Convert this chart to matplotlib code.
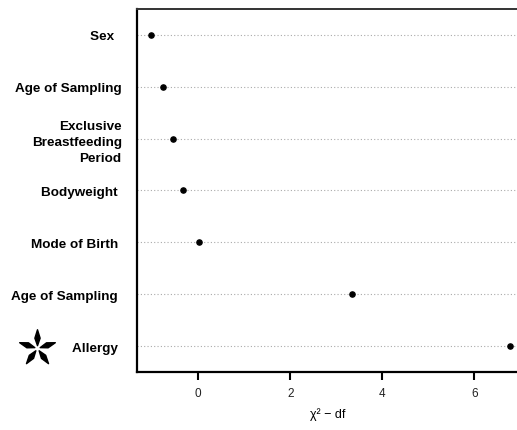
import matplotlib
matplotlib.use('Agg')
import matplotlib.pyplot as plt
import numpy as np
from matplotlib.path import Path

plt.rcParams['font.family'] = ['Liberation Sans', 'DejaVu Sans']

# data (top to bottom)
labels = ['Sex  ', 'Age of Sampling', 'Exclusive\nBreastfeeding\nPeriod',
          'Bodyweight ', 'Mode of Birth ', 'Age of Sampling ', 'Allergy ']
values = [-1.02, -0.76, -0.54, -0.33, 0.02, 3.33, 6.78]
xticks = [0, 2, 4, 6]

fig = plt.figure(figsize=(5.17, 4.31), dpi=100)
ax = fig.add_axes([0.265, 0.1346, 0.7372, 0.8423])

n = len(labels)
ypos = np.arange(n, 0, -1)

for y in ypos:
    ax.axhline(y, color='#aaaaaa', lw=0.8, ls=(0, (1, 2)), zorder=1)
ax.scatter(values, ypos, s=14, color='black', zorder=3)

ax.set_xlim(-1.33, 6.95)
ax.set_ylim(0.5, n + 0.5)

ax.set_xticks(xticks)
ax.set_xticklabels([str(t) for t in xticks], fontsize=8.5, color='#222222')
ax.tick_params(axis='x', length=6, width=1.5, pad=5)
ax.set_yticks(ypos)
ax.set_yticklabels(labels, fontsize=9.7, fontweight='bold', ha='right',
                   linespacing=1.45)
ax.tick_params(axis='y', length=0, pad=11)

for s in ['left', 'bottom']:
    ax.spines[s].set_linewidth(1.6)
ax.spines['top'].set_linewidth(1.4)
ax.spines['top'].set_color('#333333')
ax.spines['right'].set_visible(False)

ax.set_xlabel('\u03c7\u00b2 \u2212 df', fontsize=9, labelpad=6)

# five-petal star next to "Allergy"
verts, codes = [], []
for k in range(5):
    a = np.deg2rad(90 + 72 * k)
    d = np.array([np.cos(a), np.sin(a)])
    p = np.array([-np.sin(a), np.cos(a)])
    pts = [0.15 * d, 0.55 * d + 0.14 * p, 1.0 * d, 0.55 * d - 0.14 * p, 0.15 * d]
    verts += pts
    codes += [Path.MOVETO, Path.LINETO, Path.LINETO, Path.LINETO, Path.CLOSEPOLY]
star = Path(verts, codes)
fig.lines.append(plt.Line2D([37 / 517], [1 - 349 / 431], marker=star,
                            markersize=27, color='black', lw=0,
                            transform=fig.transFigure))

fig.savefig('out.png', dpi=100)
